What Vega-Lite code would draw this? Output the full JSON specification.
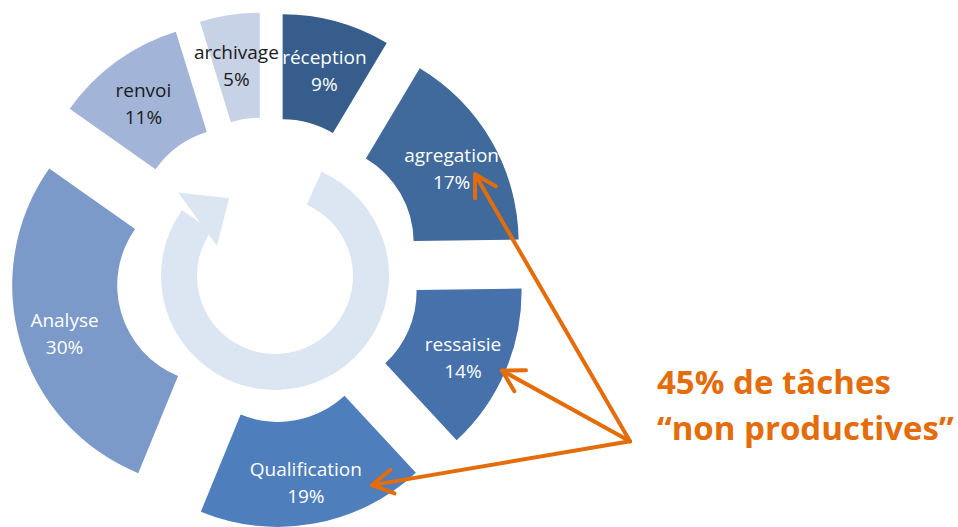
{
  "$schema": "https://vega.github.io/schema/vega-lite/v6.json",
  "width": 958,
  "height": 527,
  "autosize": {"type": "fit", "contains": "padding"},
  "padding": 0,
  "background": "white",
  "config": {"view": {"stroke": null}},
  "datasets": {
    "tasks": [
      {"order": 1, "task": "réception", "pct": 9},
      {"order": 2, "task": "agregation", "pct": 17},
      {"order": 3, "task": "ressaisie", "pct": 14},
      {"order": 4, "task": "Qualification", "pct": 19},
      {"order": 5, "task": "Analyse", "pct": 30},
      {"order": 6, "task": "renvoi", "pct": 11},
      {"order": 7, "task": "archivage", "pct": 5}
    ],
    "arrows": [
      {"target": "agregation", "x": 362, "y": -172, "x2": 207, "y2": 96},
      {"target": "ressaisie", "x": 362, "y": -172, "x2": 234, "y2": -101},
      {"target": "Qualification", "x": 362, "y": -172, "x2": 104, "y2": -216}
    ],
    "note": [
      {"line": "45% de tâches", "x": 389, "y": -114},
      {"line": "“non productives”", "x": 389, "y": -161}
    ]
  },
  "layer": [
    {
      "data": {"values": [{"shape": "cycle"}]},
      "mark": {"type": "arc", "theta": 0.42, "theta2": 5.33, "outerRadius": 114, "innerRadius": 78, "color": "#DCE6F2"},
      "encoding": {
        "x": {"datum": 7, "type": "quantitative", "scale": {"domain": [-268, 690], "nice": false, "zero": false}, "axis": null},
        "y": {"datum": -6, "type": "quantitative", "scale": {"domain": [-256, 271], "nice": false, "zero": false}, "axis": null}
      }
    },
    {
      "data": {"values": [{"shape": "cycle-head"}]},
      "mark": {"type": "point", "shape": "M -1 0 L 1 0 L 0.05 -1.15 Z", "size": 4356, "angle": 54, "filled": true, "opacity": 1, "color": "#DCE6F2", "strokeWidth": 0},
      "encoding": {
        "x": {"datum": -70.5, "type": "quantitative", "scale": {"domain": [-268, 690], "nice": false, "zero": false}, "axis": null},
        "y": {"datum": 51, "type": "quantitative", "scale": {"domain": [-256, 271], "nice": false, "zero": false}, "axis": null}
      }
    },
    {
      "data": {"name": "tasks"},
      "transform": [
        {"window": [{"op": "sum", "field": "pct", "as": "cum"}], "sort": [{"field": "order"}], "frame": [null, 0]},
        {"joinaggregate": [{"op": "sum", "field": "pct", "as": "total"}]},
        {"calculate": "(datum.cum - datum.pct) / datum.total * 2 * PI", "as": "a0"},
        {"calculate": "datum.cum / datum.total * 2 * PI", "as": "a1"},
        {"calculate": "(datum.a0 + datum.a1) / 2", "as": "mid"},
        {"calculate": "55 * sin(datum.mid)", "as": "cx"},
        {"calculate": "55 * cos(datum.mid)", "as": "cy"}
      ],
      "mark": {"type": "arc", "outerRadius": 203, "innerRadius": 98},
      "encoding": {
        "x": {"field": "cx", "type": "quantitative", "scale": {"domain": [-268, 690], "nice": false, "zero": false}, "axis": null},
        "y": {"field": "cy", "type": "quantitative", "scale": {"domain": [-256, 271], "nice": false, "zero": false}, "axis": null},
        "theta": {"field": "a0", "type": "quantitative", "scale": {"type": "linear", "domain": [0, 6.283185307], "range": [0, 6.283185307], "zero": false, "nice": false}},
        "theta2": {"field": "a1"},
        "color": {
          "field": "task", "type": "nominal", "legend": null,
          "scale": {
            "domain": ["réception", "agregation", "ressaisie", "Qualification", "Analyse", "renvoi", "archivage"],
            "range": ["#365D8C", "#40699C", "#4671AB", "#4E7EBB", "#7B99C9", "#A2B5D8", "#C8D2E6"]
          }
        }
      }
    },
    {
      "data": {"name": "tasks"},
      "transform": [
        {"window": [{"op": "sum", "field": "pct", "as": "cum"}], "sort": [{"field": "order"}], "frame": [null, 0]},
        {"joinaggregate": [{"op": "sum", "field": "pct", "as": "total"}]},
        {"calculate": "(datum.cum - datum.pct / 2) / datum.total * 2 * PI", "as": "mid"},
        {"calculate": "212 * sin(datum.mid)", "as": "lx"},
        {"calculate": "212 * cos(datum.mid)", "as": "ly"},
        {"calculate": "[datum.task, datum.pct + '%']", "as": "label"}
      ],
      "mark": {"type": "text", "font": "Open Sans", "fontSize": 19, "lineHeight": 27, "align": "center", "baseline": "middle", "dy": -8},
      "encoding": {
        "x": {"field": "lx", "type": "quantitative", "scale": {"domain": [-268, 690], "nice": false, "zero": false}, "axis": null},
        "y": {"field": "ly", "type": "quantitative", "scale": {"domain": [-256, 271], "nice": false, "zero": false}, "axis": null},
        "text": {"field": "label", "type": "nominal"},
        "color": {"condition": {"test": "datum.task === 'renvoi' || datum.task === 'archivage'", "value": "#1A1A1A"}, "value": "#FFFFFF"}
      }
    },
    {
      "data": {"name": "arrows"},
      "mark": {"type": "rule", "color": "#E46C0A", "strokeWidth": 4, "strokeCap": "round"},
      "encoding": {
        "x": {"field": "x", "type": "quantitative", "scale": {"domain": [-268, 690], "nice": false, "zero": false}, "axis": null},
        "y": {"field": "y", "type": "quantitative", "scale": {"domain": [-256, 271], "nice": false, "zero": false}, "axis": null},
        "x2": {"field": "x2"},
        "y2": {"field": "y2"}
      }
    },
    {
      "data": {"name": "arrows"},
      "transform": [
        {"calculate": "atan2(datum.x2 - datum.x, datum.y2 - datum.y) * 180 / PI", "as": "ang"}
      ],
      "mark": {"type": "point", "shape": "M -0.5 0.866 L 0 0 L 0.5 0.866", "size": 2304, "filled": false, "opacity": 1, "color": "#E46C0A", "strokeWidth": 4, "strokeCap": "round", "strokeJoin": "round"},
      "encoding": {
        "x": {"field": "x2", "type": "quantitative", "scale": {"domain": [-268, 690], "nice": false, "zero": false}, "axis": null},
        "y": {"field": "y2", "type": "quantitative", "scale": {"domain": [-256, 271], "nice": false, "zero": false}, "axis": null},
        "angle": {"field": "ang", "type": "quantitative", "scale": null}
      }
    },
    {
      "data": {"name": "note"},
      "mark": {"type": "text", "font": "Open Sans", "fontSize": 33, "fontWeight": "bold", "align": "left", "baseline": "middle", "color": "#E46C0A"},
      "encoding": {
        "x": {"field": "x", "type": "quantitative", "scale": {"domain": [-268, 690], "nice": false, "zero": false}, "axis": null},
        "y": {"field": "y", "type": "quantitative", "scale": {"domain": [-256, 271], "nice": false, "zero": false}, "axis": null},
        "text": {"field": "line", "type": "nominal"}
      }
    }
  ]
}
